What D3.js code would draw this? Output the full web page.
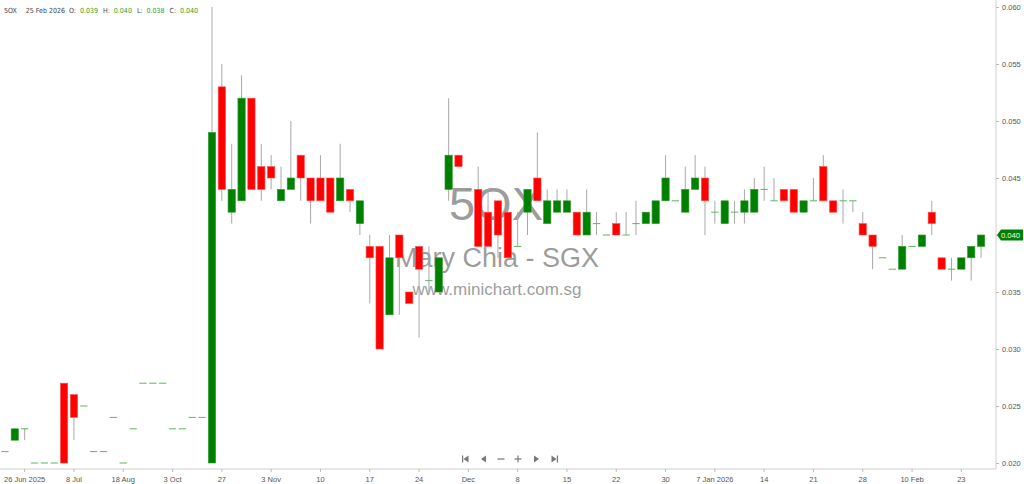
<!DOCTYPE html>
<html><head><meta charset="utf-8">
<script src="https://cdn.jsdelivr.net/npm/d3@7/dist/d3.min.js"></script>
<style>
html,body{margin:0;padding:0;background:#fff;}
svg{display:block;font-family:"Open Sans","Noto Sans",sans-serif;}
</style></head>
<body>
<svg id="c" width="1024" height="484"></svg>
<script>
// ---- data ----
const opens  = [0.021,0.022,0.023,0.020,0.020,0.020,0.027,0.026,0.025,0.021,
                0.021,0.024,0.020,0.023,0.027,0.027,0.027,0.023,0.023,0.024,
                0.024,0.020,0.053,0.042,0.043,0.052,0.046,0.046,0.043,0.044,
                0.047,0.045,0.045,0.045,0.043,0.044,0.041,0.039,0.039,0.033,
                0.040,0.035,0.039,0.036,0.035,0.044,0.047,0.044,0.044,0.042,
                0.043,0.042,0.039,0.042,0.045,0.041,0.042,0.042,0.042,0.040,
                0.041,0.040,0.041,0.040,0.041,0.041,0.041,0.043,0.043,0.042,
                0.044,0.045,0.042,0.041,0.042,0.042,0.042,0.044,0.043,0.044,
                0.044,0.042,0.043,0.046,0.043,0.043,0.043,0.041,0.040,0.038,
                0.037,0.037,0.039,0.039,0.042,0.038,0.037,0.037,0.038,0.039];
const highs  = [0.021,0.023,0.023,0.020,0.020,0.020,0.027,0.026,0.025,0.021,
                0.021,0.024,0.020,0.023,0.027,0.027,0.027,0.023,0.023,0.024,
                0.024,0.060,0.055,0.048,0.054,0.052,0.048,0.047,0.046,0.050,
                0.047,0.045,0.047,0.045,0.048,0.044,0.043,0.040,0.039,0.040,
                0.040,0.035,0.039,0.039,0.038,0.052,0.047,0.044,0.046,0.044,
                0.043,0.042,0.042,0.044,0.049,0.044,0.044,0.044,0.042,0.044,
                0.042,0.040,0.042,0.042,0.043,0.042,0.043,0.047,0.043,0.046,
                0.047,0.046,0.043,0.043,0.043,0.044,0.045,0.046,0.045,0.044,
                0.044,0.043,0.045,0.047,0.043,0.044,0.043,0.042,0.040,0.038,
                0.037,0.040,0.039,0.040,0.043,0.038,0.038,0.038,0.039,0.040];
const lows   = [0.021,0.022,0.022,0.020,0.020,0.020,0.020,0.022,0.025,0.021,
                0.021,0.024,0.020,0.023,0.027,0.027,0.027,0.023,0.023,0.024,
                0.024,0.020,0.043,0.041,0.043,0.044,0.043,0.044,0.043,0.044,
                0.043,0.041,0.043,0.042,0.043,0.042,0.040,0.034,0.030,0.033,
                0.033,0.034,0.031,0.035,0.035,0.043,0.046,0.044,0.039,0.039,
                0.038,0.038,0.039,0.040,0.043,0.041,0.042,0.042,0.040,0.040,
                0.040,0.040,0.040,0.040,0.040,0.041,0.041,0.043,0.043,0.042,
                0.044,0.040,0.041,0.041,0.041,0.041,0.042,0.043,0.043,0.043,
                0.042,0.042,0.043,0.043,0.042,0.041,0.042,0.040,0.037,0.038,
                0.037,0.037,0.039,0.039,0.040,0.037,0.036,0.037,0.036,0.038];
const closes = [0.021,0.023,0.023,0.020,0.020,0.020,0.020,0.024,0.025,0.021,
                0.021,0.024,0.020,0.023,0.027,0.027,0.027,0.023,0.023,0.024,
                0.024,0.049,0.044,0.044,0.052,0.044,0.044,0.045,0.044,0.045,
                0.045,0.043,0.043,0.042,0.045,0.043,0.043,0.038,0.030,0.038,
                0.038,0.034,0.037,0.036,0.038,0.047,0.046,0.044,0.039,0.039,
                0.040,0.038,0.039,0.044,0.043,0.043,0.043,0.043,0.040,0.042,
                0.041,0.040,0.040,0.040,0.041,0.042,0.043,0.045,0.043,0.044,
                0.045,0.043,0.042,0.043,0.042,0.043,0.044,0.044,0.043,0.043,
                0.042,0.043,0.043,0.043,0.042,0.043,0.043,0.040,0.039,0.038,
                0.037,0.039,0.039,0.040,0.041,0.037,0.037,0.038,0.039,0.040];
const tickIndex  = [2,7,12,17,22,27,32,37,42,47,52,57,62,67,72,77,82,87,92,97];
const tickLabels = ["26 Jun 2025","8 Jul","18 Aug","3 Oct","27","3 Nov","10","17","24","Dec",
                    "8","15","22","30","7 Jan 2026","14","21","28","10 Feb","23"];
const yTicks = [0.020,0.025,0.030,0.035,0.040,0.045,0.050,0.055,0.060];
const symbol = "5OX", lastDate = "25 Feb 2026", company = "Mary Chia - SGX", site = "www.minichart.com.sg";

// ---- chart ----
const svg = d3.select("#c");
const axisX = 996, axisY = 469;
const idx = d3.range(opens.length);
const x = d3.scaleBand().domain(idx).range([0, 986]).paddingInner(0.26).paddingOuter(0.13);
const y = d3.scaleLinear().domain([0.020, 0.060]).range([463, 7]);
const cx = i => x(i) + x.bandwidth()/2;
const green = "#008000", red = "#ff0000";

// watermark
const wm = svg.append("g").attr("fill", "#8a8a8a").attr("text-anchor", "middle");
wm.append("text").attr("x", 496).attr("y", 220).attr("font-size", 47).attr("font-family","Liberation Sans, Arial, sans-serif").attr("fill-opacity",0.85).text(symbol);
wm.append("text").attr("x", 497).attr("y", 267).attr("font-size", 27).attr("font-family","Liberation Sans, Arial, sans-serif").attr("fill-opacity",0.85).text(company);
wm.append("text").attr("x", 497).attr("y", 295).attr("font-size", 17).attr("font-family","Liberation Sans, Arial, sans-serif").attr("fill-opacity",0.85).text(site);

// candles
const g = svg.append("g");
idx.forEach(i => {
  const o = opens[i], h = highs[i], l = lows[i], c = closes[i];
  if (h > l) {
    g.append("line").attr("x1", cx(i)).attr("x2", cx(i))
      .attr("y1", y(h)).attr("y2", y(l)).attr("stroke", "#a8a8a8").attr("stroke-width", 1);
  }
  if (o === c) {
    g.append("line").attr("x1", x(i)).attr("x2", x(i) + x.bandwidth())
      .attr("y1", y(c)).attr("y2", y(c)).attr("stroke", "#5cb85c").attr("stroke-width", 1);
  } else {
    const col = c > o ? green : red;
    g.append("rect").attr("x", x(i)).attr("width", x.bandwidth())
      .attr("y", y(Math.max(o, c))).attr("height", y(Math.min(o, c)) - y(Math.max(o, c)))
      .attr("fill", col).attr("stroke", c > o ? "#2e9a2e" : "#ff5050").attr("stroke-width", 0.6);
  }
});

// right axis
const yAxis = d3.axisRight(y).tickValues(yTicks).tickFormat(d3.format(".3f")).tickSize(3).tickPadding(3);
const ya = svg.append("g").attr("transform", `translate(${axisX},0)`).call(yAxis);
ya.select(".domain").attr("stroke", "#d0d0d0").attr("d", `M0,0V${axisY}`);
ya.selectAll(".tick line").attr("stroke", "#bbb");
ya.selectAll(".tick text").attr("fill", "#555").attr("font-size", 7.5);

// bottom axis
const xAxis = d3.axisBottom(x).tickValues(tickIndex).tickFormat((d, k) => tickLabels[k]).tickSize(3).tickPadding(5);
const xa = svg.append("g").attr("transform", `translate(0,${axisY})`).call(xAxis);
xa.select(".domain").attr("stroke", "#d0d0d0").attr("d", `M0,0H${axisX}`);
xa.selectAll(".tick line").attr("stroke", "#bbb");
xa.selectAll(".tick text").attr("fill", "#555").attr("font-size", 7.5);

// last price label
const last = closes[closes.length - 1];
const ly = y(last);
svg.append("path").attr("d", `M${axisX+1},${ly} L${axisX+5},${ly-5.5} H1023 V${ly+5.5} H${axisX+5} Z`).attr("fill", green);
svg.append("text").attr("x", 1001).attr("y", ly + 2.8).attr("fill", "#fff").attr("font-size", 7.5).text(d3.format(".3f")(last));

// header (laid out sequentially using measured widths)
const fmt = d3.format(".3f");
const n = opens.length - 1;
const hdrParts = [
  [symbol, "#444", 9], [lastDate, "#444", 4], ["O:", "#444", 4], [fmt(opens[n]), "#2ca02c", 5],
  ["H:", "#444", 4], [fmt(highs[n]), "#2ca02c", 5],
  ["L:", "#444", 4], [fmt(lows[n]), "#2ca02c", 5],
  ["C:", "#444", 4], [fmt(closes[n]), "#2ca02c", 0]];
const hdr = svg.append("g").attr("font-size", 7).attr("font-family", "'DejaVu Sans Condensed', 'Open Sans', sans-serif");
let hx = 4;
hdrParts.forEach(p => {
  const t = hdr.append("text").attr("x", hx).attr("y", 13).attr("fill", p[1]).text(p[0]);
  hx += t.node().getComputedTextLength() + p[2];
});

// navigation icons
const nav = svg.append("g").attr("fill", "#777").attr("stroke", "#777");
const ny = 459;
nav.append("rect").attr("x", 462).attr("y", ny-3.5).attr("width", 1.2).attr("height", 7).attr("stroke", "none");
nav.append("path").attr("d", `M463.5,${ny} L468.5,${ny-3.5} V${ny+3.5} Z`).attr("stroke", "none");
nav.append("path").attr("d", `M481,${ny} L486,${ny-3.5} V${ny+3.5} Z`).attr("stroke", "none");
nav.append("line").attr("x1", 497.5).attr("x2", 504.5).attr("y1", ny).attr("y2", ny).attr("stroke-width", 1.2);
nav.append("line").attr("x1", 514.5).attr("x2", 521.5).attr("y1", ny).attr("y2", ny).attr("stroke-width", 1.2);
nav.append("line").attr("x1", 518).attr("x2", 518).attr("y1", ny-3.5).attr("y2", ny+3.5).attr("stroke-width", 1.2);
nav.append("path").attr("d", `M539,${ny} L534,${ny-3.5} V${ny+3.5} Z`).attr("stroke", "none");
nav.append("path").attr("d", `M556.5,${ny} L551.5,${ny-3.5} V${ny+3.5} Z`).attr("stroke", "none");
nav.append("rect").attr("x", 556.8).attr("y", ny-3.5).attr("width", 1.2).attr("height", 7).attr("stroke", "none");
</script>
</body></html>
